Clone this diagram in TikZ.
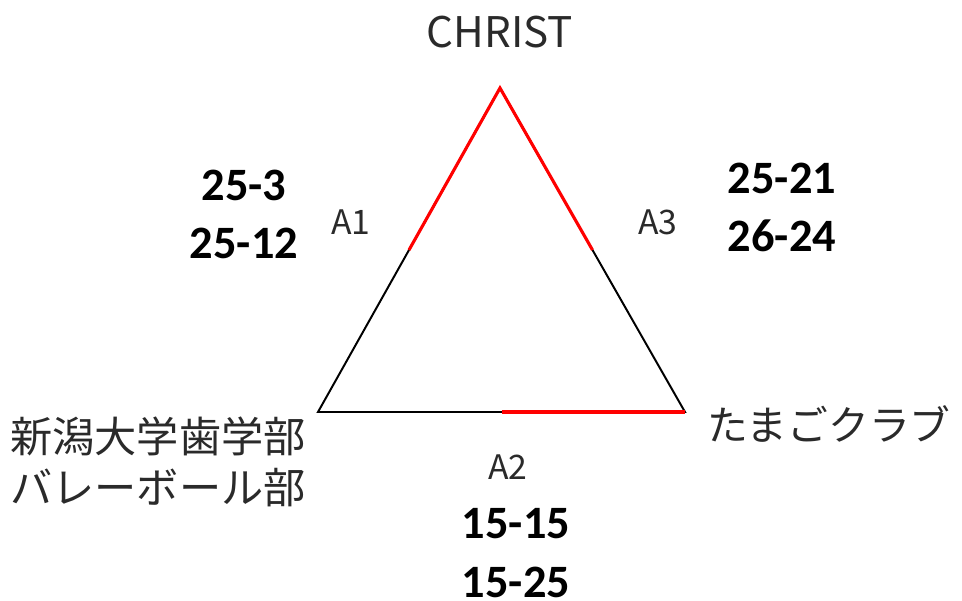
\documentclass[tikz,border=0pt]{standalone}
\usepackage{fontspec}
\setmainfont{Noto Sans CJK JP}
\newfontfamily\scorefont{Carlito}
\usepackage{tikz}
\usetikzlibrary{calc}
\definecolor{txtgray}{HTML}{2A2A2A}

\begin{document}
\begin{tikzpicture}[x=0.025cm, y=-0.025cm,
    team/.style={text=txtgray, font=\fontsize{30}{36}\selectfont, inner sep=0pt},
    match/.style={text=txtgray, font=\fontsize{24}{28}\selectfont, inner sep=0pt},
    score/.style={font=\scorefont\bfseries\fontsize{33}{40}\selectfont, inner sep=0pt}]
        \useasboundingbox (0,0) rectangle (962,600);

        % Đỉnh tam giác
        \coordinate (top) at (500,88);
        \coordinate (bl) at (318,412);
        \coordinate (br) at (685,412);
        \coordinate (m1) at ($(top)!0.5!(bl)$);
        \coordinate (m3) at ($(top)!0.5!(br)$);
        \coordinate (m2) at ($(bl)!0.5!(br)$);

        % Tam giác và các cạnh đỏ
        \draw[line width=1.4pt] (top) -- (bl) -- (br) -- cycle;
        \draw[red, line width=2.2pt] (m1) -- (top) -- (m3);
        \draw[red, line width=2.2pt] (m2) -- (br);

        % Tên các đội
        \node[team] (christ) at (500,32) {CHRIST};
        \node[team] (niigata1) at (158,436) {新潟大学歯学部};
        \node[team] (niigata2) at (158,488) {バレーボール部};
        \node[team, font=\fontsize{29}{34}\selectfont] (tamago) at (829,424) {たまごクラブ};

        % Tên các trận
        \node[match] (a1) at (351,222) {A1};
        \node[match] (a3) at (658,222) {A3};
        \node[match] (a2) at (508,467) {A2};

        % Tỉ số
        \node[score] (s11) at (244,185) {25-3};
        \node[score] (s12) at (244,243) {25-12};
        \node[score] (s31) at (782,178) {25-21};
        \node[score] (s32) at (782,236) {26-24};
        \node[score] (s21) at (516,524) {15-15};
        \node[score] (s22) at (516,582) {15-25};
    \end{tikzpicture}
\end{document}
